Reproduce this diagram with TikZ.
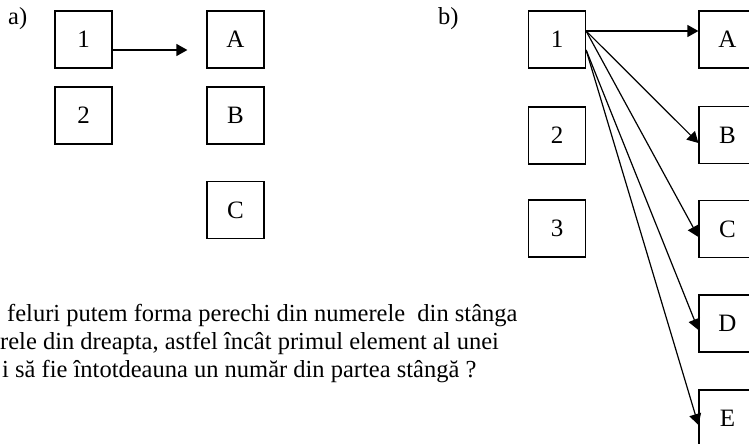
\documentclass[tikz,border=0pt]{standalone}
\usepackage{fontspec}
\setmainfont{Liberation Serif}
\usetikzlibrary{arrows.meta}
\begin{document}
\begin{tikzpicture}[x=1pt,y=-1pt,
  box/.style={draw,line width=1.2pt,minimum width=57pt,minimum height=57pt,inner sep=0pt,font=\fontsize{25}{29}\selectfont},
  conn/.style={line width=1.2pt,-{Triangle[length=11pt,width=12pt]}},
  lbl/.style={anchor=base west,inner sep=0pt,font=\fontsize{24.5}{29}\selectfont},
  txt/.style={anchor=base west,inner sep=0pt,font=\fontsize{24.5}{29}\selectfont}]
\useasboundingbox (0,0) rectangle (749,444);
\clip (0,0) rectangle (749,444);
% part a
\node[lbl] (la) at (8,25) {a)};
\node[box] (a1) at (83.5,39.5) {1};
\node[box] (a2) at (83.5,115.5) {2};
\node[box] (aA) at (235.5,39.5) {A};
\node[box] (aB) at (235.5,115.5) {B};
\node[box] (aC) at (235.5,210) {C};
\draw[conn] ([yshift=-10.5pt]a1.east) -- ([xshift=-19pt,yshift=-10.5pt]aA.west);
% part b
\node[lbl] (lb) at (438,25) {b)};
\node[box] (b1) at (557,39.5) {1};
\node[box] (b2) at (557,135.5) {2};
\node[box] (b3) at (557,228.5) {3};
\node[box] (bA) at (727.5,39.5) {A};
\node[box] (bB) at (727.5,135) {B};
\node[box] (bC) at (727.5,229) {C};
\node[box] (bD) at (727.5,323.5) {D};
\node[box] (bE) at (727.5,418.5) {E};
\draw[conn] ([yshift=8.5pt]b1.east) -- ([yshift=8.5pt]bA.west);
\draw[conn] ([yshift=8.5pt]b1.east) -- ([yshift=-8pt]bB.west);
\draw[conn] ([yshift=8.5pt]b1.east) -- ([yshift=-8pt]bC.west);
\draw[conn] ([yshift=-10.5pt]b1.east) -- ([yshift=-6.5pt]bD.west);
\draw[conn] ([yshift=-10.5pt]b1.east) -- ([yshift=-6.5pt]bE.west);
% question text
\node[txt] (t1) at (7,321) {feluri putem forma perechi din numerele\ \ din stânga};
\node[txt] (t2) at (0,349) {rele din dreapta, astfel încât primul element al unei};
\node[txt] (t3) at (2,377) {i să fie întotdeauna un număr din partea stângă ?};
\end{tikzpicture}
\end{document}
